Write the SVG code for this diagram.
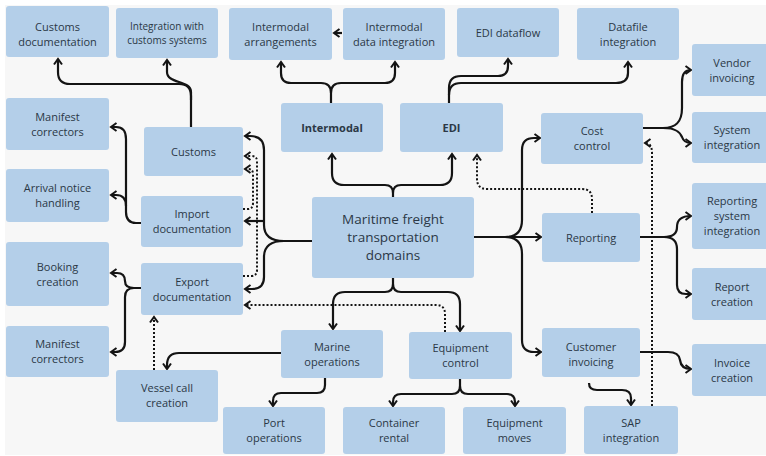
<svg xmlns="http://www.w3.org/2000/svg" width="766" height="456" viewBox="0 0 766 456">
  <defs>
    <style>
      .box { fill: #b4cfe9; }
      .t { font-family: "Open Sans", "Noto Sans", sans-serif; font-size: 11px; fill: #2b3846; text-anchor: middle; }
      .s { font-size: 10px; }
      .b { font-weight: bold; }
      .big { font-size: 13.5px; }
      .c { fill: none; stroke: #141414; stroke-width: 2.2; marker-end: url(#ah); }
      .d { stroke-width: 2; stroke-dasharray: 2 2; }
    </style>
    <marker id="ah" viewBox="0 0 10 10" refX="7" refY="5" markerWidth="10" markerHeight="10" orient="auto" markerUnits="userSpaceOnUse">
      <path d="M1.5,1 L7,5 L1.5,9" fill="none" stroke="#141414" stroke-width="2"/>
    </marker>
  </defs>

  <rect x="0" y="0" width="766" height="456" fill="#ffffff"/>
  <rect x="5" y="5" width="761" height="450" fill="#f7f7f7"/>

  <!-- connectors -->
  <g id="connectors">
    <!-- customs branches -->
    <path class="c" d="M191,127 V96 Q191,84 179,84 H70 Q58,84 58,72 V59"/>
    <path class="c" d="M191,100 V92 C191,80 167,84 167,72 V60"/>
    <!-- intermodal -->
    <path class="c" d="M342,33 H334"/>
    <path class="c" d="M331,103 V93 Q331,83 321,83 H291 Q281,83 281,73 V62"/>
    <path class="c" d="M331,93 Q331,83 341,83 H385 Q395,83 395,73 V62"/>
    <!-- EDI -->
    <path class="c" d="M449,103 V88 Q449,76 461,76 H498 Q508,76 508,66 V59"/>
    <path class="c" d="M449,95 Q449,83 461,83 H616 Q628,83 628,73 V62"/>
    <!-- maritime to left column -->
    <path class="c" d="M312,241 H284 Q264,241 264,225 V150 Q264,136 250,136 H245"/>
    <path class="c" d="M284,241 Q264,241 264,257 V277 Q264,289 252,289 H245"/>
    <path class="c" d="M264,221 H245"/>
    <path class="c d" d="M243,209 H248 Q253,209 253,203 V174 Q253,169 248,169 H245"/>
    <path class="c d" d="M243,276 H251 Q257,276 257,270 V161 Q257,156 251,156 H245"/>
    <path class="c d" d="M445,332 V314 Q445,305 436,305 H245"/>
    <path class="c d" d="M154,370 V317"/>
    <!-- marine operations -->
    <path class="c" d="M281,353 H179 Q167,353 167,365 V369"/>
    <path class="c" d="M325,378 V385 Q325,393 317,393 H281 Q273,393 273,401 V406"/>
    <!-- equipment control -->
    <path class="c" d="M460,379 V386 Q460,394 452,394 H401 Q393,394 393,402 V406"/>
    <path class="c" d="M460,386 Q460,394 468,394 H507 Q515,394 515,402 V406"/>
    <!-- maritime down / up -->
    <path class="c" d="M393,278 V284 Q393,292 385,292 H345 Q333,292 333,304 V329"/>
    <path class="c" d="M393,284 Q393,292 401,292 H448 Q460,292 460,304 V331"/>
    <path class="c" d="M393,197 V193 Q393,185 385,185 H344 Q332,185 332,173 V154"/>
    <path class="c" d="M393,193 Q393,185 401,185 H440 Q452,185 452,173 V154"/>
    <path class="c d" d="M592,213 V199 Q592,189 582,189 H487 Q477,189 477,179 V155"/>
    <!-- maritime to right column -->
    <path class="c" d="M474,237 H541"/>
    <path class="c" d="M505,237 Q522,237 522,220 V150 Q522,138 534,138 H540"/>
    <path class="c" d="M505,237 Q522,237 522,254 V340 Q522,352 534,352 H541"/>
    <path class="c d" d="M652,406 V153 Q652,143 645,143"/>
    <!-- cost control -->
    <path class="c" d="M643,128 H663 C676,128 682,122 682,108 V82 Q682,70 691,70"/>
    <path class="c" d="M663,128 C676,128 680,132 682,137 Q684,143 691,143"/>
    <!-- reporting -->
    <path class="c" d="M640,237 H664 Q677,237 677,227 Q677,216 691,216"/>
    <path class="c" d="M664,237 Q677,237 677,249 V285 Q677,294 686,294 H691"/>
    <!-- customer invoicing -->
    <path class="c" d="M640,352 H668 Q679,352 680,360 Q681,369 691,369"/>
    <path class="c" d="M589,383 Q589,390 597,390 H622 Q631,390 631,398 V405"/>
    <!-- import / export documentation -->
    <path class="c" d="M141,223 H136 Q126,223 126,212 V139 Q126,127 116,127 H111"/>
    <path class="c" d="M126,206 Q126,195 116,195 H111"/>
    <path class="c" d="M141,288 H134 Q125,288 125,281 Q125,273 117,273 H111"/>
    <path class="c" d="M134,288 Q125,288 125,297 V342 Q125,352 115,352 H111"/>
  </g>

  <!-- nodes -->
  <g id="customs-documentation"><rect class="box" x="6" y="6" width="103" height="51" rx="3"/>
    <text class="t" x="57.5" y="30.5">Customs</text><text class="t" x="57.5" y="45.5">documentation</text></g>
  <g id="customs-integration"><rect class="box" x="116" y="8" width="102" height="50" rx="3"/>
    <text class="t s" x="167" y="30">Integration with</text><text class="t s" x="167" y="44">customs systems</text></g>
  <g id="intermodal-arrangements"><rect class="box" x="229" y="8" width="103" height="52" rx="3"/>
    <text class="t" x="280.5" y="30.5">Intermodal</text><text class="t" x="280.5" y="45.5">arrangements</text></g>
  <g id="intermodal-data-integration"><rect class="box" x="343" y="8" width="102" height="52" rx="3"/>
    <text class="t" x="394" y="30.5">Intermodal</text><text class="t" x="394" y="45.5">data integration</text></g>
  <g id="edi-dataflow"><rect class="box" x="457" y="8" width="102" height="49" rx="3"/>
    <text class="t" x="508" y="36.5">EDI dataflow</text></g>
  <g id="datafile-integration"><rect class="box" x="577" y="8" width="102" height="52" rx="3"/>
    <text class="t" x="628" y="30.5">Datafile</text><text class="t" x="628" y="45.5">integration</text></g>
  <g id="vendor-invoicing"><rect class="box" x="692" y="44" width="80" height="52" rx="3"/>
    <text class="t" x="732" y="66.5">Vendor</text><text class="t" x="732" y="81.5">invoicing</text></g>
  <g id="manifest-correctors-1"><rect class="box" x="6" y="98" width="103" height="52" rx="3"/>
    <text class="t" x="57.5" y="120.5">Manifest</text><text class="t" x="57.5" y="135.5">correctors</text></g>
  <g id="intermodal"><rect class="box" x="281" y="103" width="102" height="49" rx="3"/>
    <text class="t b" x="332" y="131.5">Intermodal</text></g>
  <g id="edi"><rect class="box" x="400" y="103" width="103" height="49" rx="3"/>
    <text class="t b" x="451.5" y="131.5">EDI</text></g>
  <g id="cost-control"><rect class="box" x="541" y="113" width="102" height="51" rx="3"/>
    <text class="t" x="592" y="135">Cost</text><text class="t" x="592" y="150">control</text></g>
  <g id="system-integration"><rect class="box" x="692" y="112" width="80" height="51" rx="3"/>
    <text class="t" x="732" y="134">System</text><text class="t" x="732" y="149">integration</text></g>
  <g id="customs"><rect class="box" x="144" y="127" width="99" height="49" rx="3"/>
    <text class="t" x="193.5" y="155.5">Customs</text></g>
  <g id="arrival-notice-handling"><rect class="box" x="6" y="169" width="103" height="53" rx="3"/>
    <text class="t" x="57.5" y="192">Arrival notice</text><text class="t" x="57.5" y="207">handling</text></g>
  <g id="reporting-system-integration"><rect class="box" x="692" y="183" width="80" height="66" rx="3"/>
    <text class="t" x="732" y="205">Reporting</text><text class="t" x="732" y="220">system</text><text class="t" x="732" y="235">integration</text></g>
  <g id="import-documentation"><rect class="box" x="141" y="196" width="102" height="51" rx="3"/>
    <text class="t" x="192" y="218">Import</text><text class="t" x="192" y="233">documentation</text></g>
  <g id="maritime-domains"><rect class="box" x="312" y="197" width="162" height="81" rx="3"/>
    <text class="t big" x="393" y="224">Maritime freight</text><text class="t big" x="393" y="242">transportation</text><text class="t big" x="393" y="260">domains</text></g>
  <g id="reporting"><rect class="box" x="542" y="213" width="98" height="49" rx="3"/>
    <text class="t" x="591" y="241.5">Reporting</text></g>
  <g id="booking-creation"><rect class="box" x="6" y="242" width="103" height="64" rx="3"/>
    <text class="t" x="57.5" y="271">Booking</text><text class="t" x="57.5" y="286">creation</text></g>
  <g id="export-documentation"><rect class="box" x="141" y="263" width="102" height="52" rx="3"/>
    <text class="t" x="192" y="285.5">Export</text><text class="t" x="192" y="300.5">documentation</text></g>
  <g id="report-creation"><rect class="box" x="692" y="268" width="80" height="52" rx="3"/>
    <text class="t" x="732" y="290.5">Report</text><text class="t" x="732" y="305.5">creation</text></g>
  <g id="manifest-correctors-2"><rect class="box" x="6" y="326" width="103" height="51" rx="3"/>
    <text class="t" x="57.5" y="348">Manifest</text><text class="t" x="57.5" y="363">correctors</text></g>
  <g id="marine-operations"><rect class="box" x="281" y="330" width="102" height="48" rx="3"/>
    <text class="t" x="332" y="350.5">Marine</text><text class="t" x="332" y="365.5">operations</text></g>
  <g id="equipment-control"><rect class="box" x="409" y="332" width="103" height="47" rx="3"/>
    <text class="t" x="460.5" y="352">Equipment</text><text class="t" x="460.5" y="367">control</text></g>
  <g id="customer-invoicing"><rect class="box" x="542" y="328" width="98" height="49" rx="3"/>
    <text class="t" x="591" y="350.5">Customer</text><text class="t" x="591" y="365.5">invoicing</text></g>
  <g id="invoice-creation"><rect class="box" x="692" y="344" width="80" height="52" rx="3"/>
    <text class="t" x="732" y="366.5">Invoice</text><text class="t" x="732" y="381.5">creation</text></g>
  <g id="vessel-call-creation"><rect class="box" x="116" y="370" width="102" height="52" rx="3"/>
    <text class="t" x="167" y="392">Vessel call</text><text class="t" x="167" y="407">creation</text></g>
  <g id="port-operations"><rect class="box" x="223" y="407" width="102" height="47" rx="3"/>
    <text class="t" x="274" y="427">Port</text><text class="t" x="274" y="442">operations</text></g>
  <g id="container-rental"><rect class="box" x="343" y="407" width="102" height="47" rx="3"/>
    <text class="t" x="394" y="427">Container</text><text class="t" x="394" y="442">rental</text></g>
  <g id="equipment-moves"><rect class="box" x="463" y="407" width="103" height="47" rx="3"/>
    <text class="t" x="514.5" y="427">Equipment</text><text class="t" x="514.5" y="442">moves</text></g>
  <g id="sap-integration"><rect class="box" x="584" y="406" width="94" height="48" rx="3"/>
    <text class="t" x="631" y="426.5">SAP</text><text class="t" x="631" y="441.5">integration</text></g>
</svg>
